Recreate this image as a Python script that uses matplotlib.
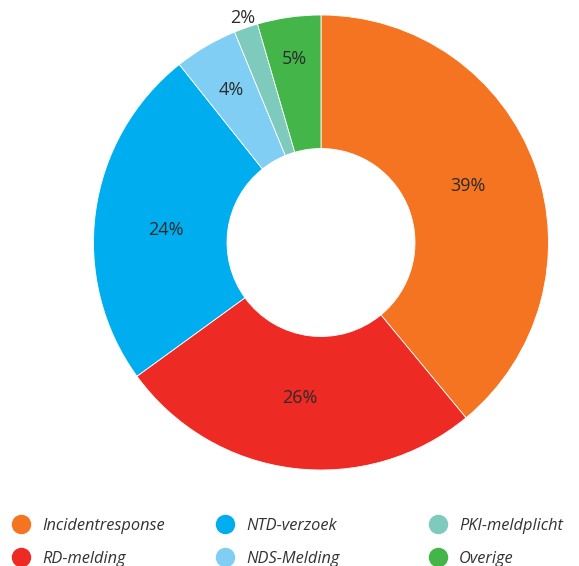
import numpy as np
import matplotlib
matplotlib.use("Agg")
import matplotlib.pyplot as plt

categories = ["Incidentresponse", "RD-melding", "NTD-verzoek", "NDS-Melding", "PKI-meldplicht", "Overige"]
values = [39.0, 26.0, 24.3, 4.5, 1.7, 4.5]
pct_labels = ["39%", "26%", "24%", "4%", "2%", "5%"]
colors = ["#F47421", "#EE2A24", "#00AEEF", "#80CEF4", "#7ECBBE", "#43B549"]

W, H = 579, 566
fig = plt.figure(figsize=(W / 100, H / 100), dpi=100)
fam = ["Open Sans", "DejaVu Sans"]
PT = 0.72  # points per pixel at 100 dpi

cx, cy, R = 321, 242.5, 227.5
ax = fig.add_axes([(cx - R) / W, 1 - (cy + R) / H, 2 * R / W, 2 * R / H])

wedges, _ = ax.pie(values, colors=colors, startangle=90, counterclock=False,
                   radius=1, wedgeprops=dict(width=1 - 94 / R, edgecolor="white", linewidth=0.6))
ax.set_xlim(-1, 1)
ax.set_ylim(-1, 1)
ax.set_aspect("auto")
ax.axis("off")

label_r = [0.693, 0.686, 0.685, 0.78, 1.05, 0.82]
label_dtheta = [1.4, -0.5, 3.0, 0.0, 0.0, 0.0]
for w, lab, r, dt in zip(wedges, pct_labels, label_r, label_dtheta):
    mid = np.deg2rad((w.theta1 + w.theta2) / 2 + dt)
    ax.annotate(lab, (r * np.cos(mid), r * np.sin(mid)), xytext=(0, -5.8 * PT),
                textcoords="offset points", ha="center", va="baseline",
                fontsize=13, color="#2b2b2b", family=fam)

# legend
col_x = [21, 225, 438]
row_y = [523.5, 556.5]
lax = fig.add_axes([0, 0, 1, 1])
lax.set_xlim(0, W)
lax.set_ylim(H, 0)
lax.axis("off")
for i, (cat, c) in enumerate(zip(categories, colors)):
    x = col_x[i // 2]
    y = row_y[i % 2]
    lax.plot([x], [y], marker="o", markersize=13, color=c, linestyle="none")
    lax.text(x + 21, y + 6.5, cat, ha="left", va="baseline", fontsize=11.8, style="italic",
             color="#333333", family=fam)

fig.savefig("out.png", dpi=100)
